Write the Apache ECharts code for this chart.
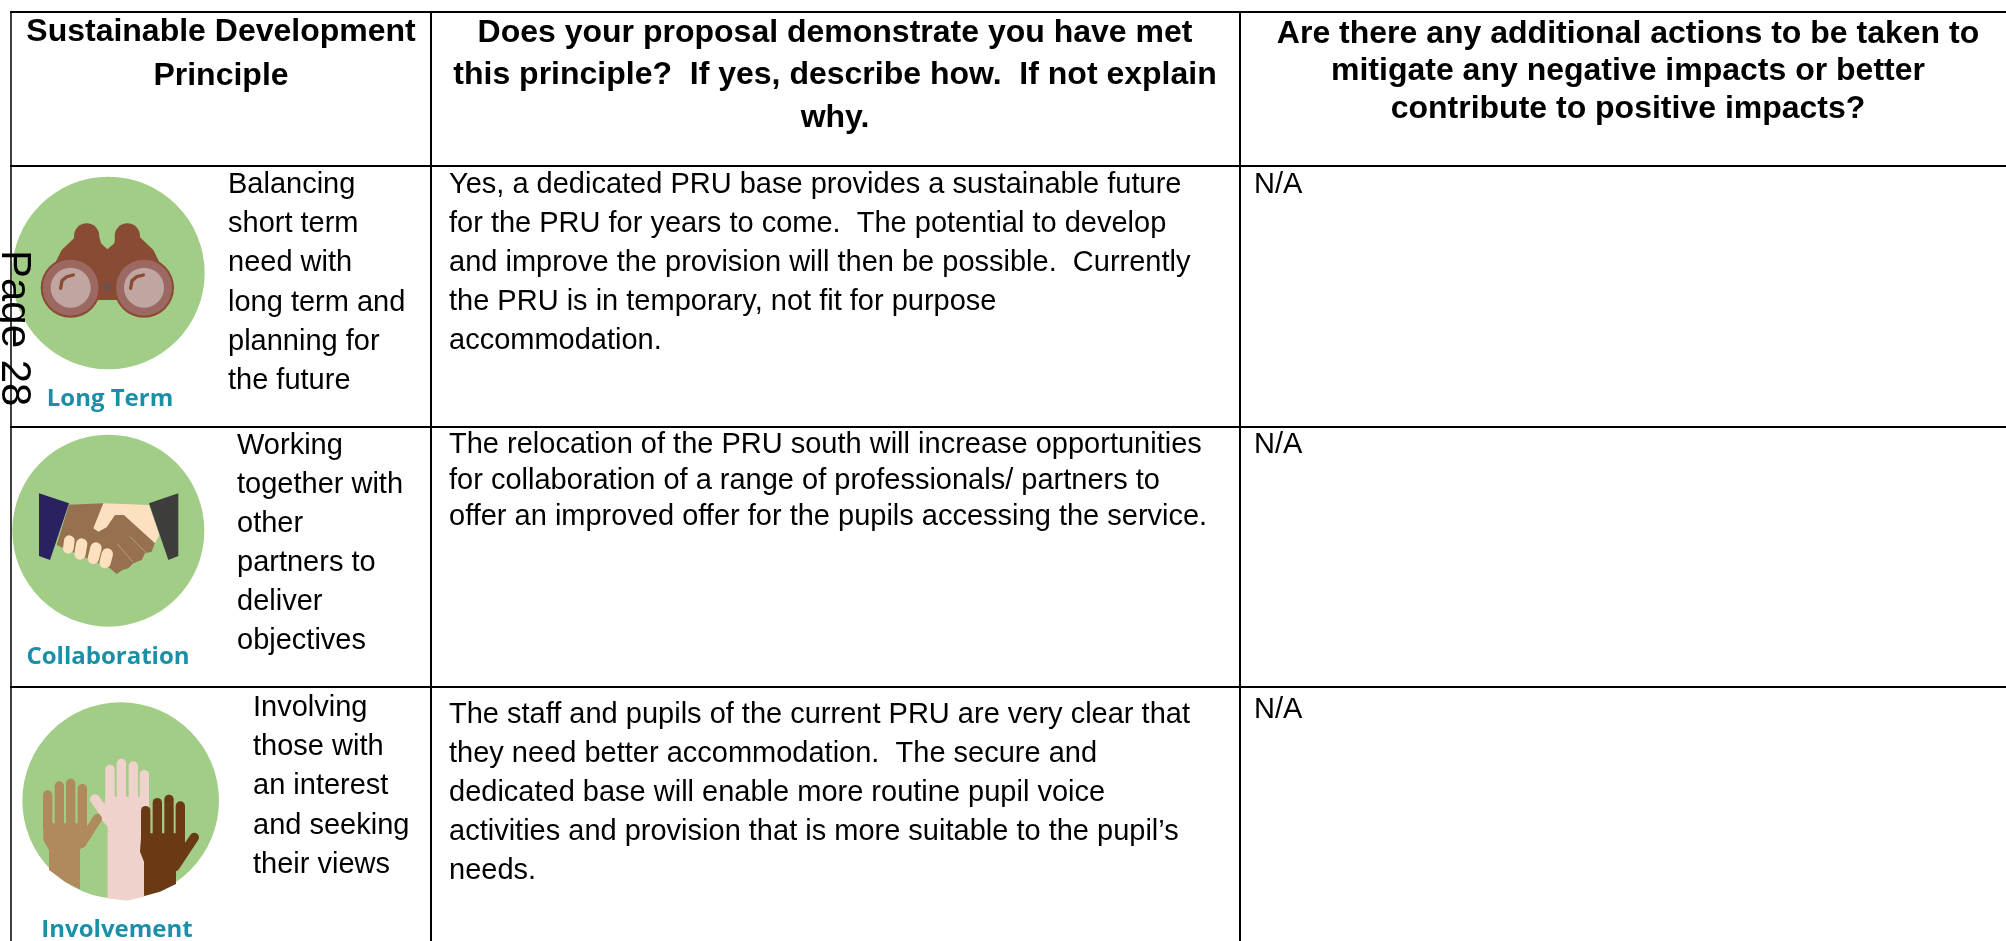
<!DOCTYPE html>
<html>
<head>
<meta charset="utf-8">
<style>
html,body{margin:0;padding:0;background:#fff;}
#main{width:2006px;height:941px;}
</style>
<script src="https://cdn.jsdelivr.net/npm/echarts@6/dist/echarts.min.js"></script>
</head>
<body>
<div id="main"></div>
<script>
var headerPrinciple = ['Sustainable Development', 'Principle'];
var headerProposal = ['Does your proposal demonstrate you have met', 'this principle?  If yes, describe how.  If not explain', 'why.'];
var headerActions = ['Are there any additional actions to be taken to', 'mitigate any negative impacts or better', 'contribute to positive impacts?'];

var iconLabels = ['Long Term', 'Collaboration', 'Involvement'];
var principleLong = ['Balancing', 'short term', 'need with', 'long term and', 'planning for', 'the future'];
var principleCollab = ['Working', 'together with', 'other', 'partners to', 'deliver', 'objectives'];
var principleInvolve = ['Involving', 'those with', 'an interest', 'and seeking', 'their views'];

var proposalLong = ['Yes, a dedicated PRU base provides a sustainable future', 'for the PRU for years to come.  The potential to develop', 'and improve the provision will then be possible.  Currently', 'the PRU is in temporary, not fit for purpose', 'accommodation.'];
var proposalCollab = ['The relocation of the PRU south will increase opportunities', 'for collaboration of a range of professionals/ partners to', 'offer an improved offer for the pupils accessing the service.'];
var proposalInvolve = ['The staff and pupils of the current PRU are very clear that', 'they need better accommodation.  The secure and', 'dedicated base will enable more routine pupil voice', 'activities and provision that is more suitable to the pupil\u2019s', 'needs.'];
var actionsText = 'N/A';
var pageLabel = 'Page 28';

var FONT = '"Liberation Sans"';
var GREEN = '#a2cd86';
var els = [];

function line(x1, y1, x2, y2, w) {
	els.push({type: 'line', shape: {x1: x1, y1: y1, x2: x2, y2: y2}, style: {stroke: '#000', lineWidth: w || 2}, silent: true});
}
// y is the baseline, zrender has no alphabetic baseline so go through middle
function textLines(lines, x, y, step, size, bold, align) {
	for (var i = 0; i < lines.length; i++) {
		els.push({type: 'text', x: x, y: y + i * step - size * 0.3465, silent: true, style: {
			text: lines[i], fill: '#000', font: (bold ? 'bold ' : '') + size + 'px ' + FONT,
			textAlign: align || 'left', textVerticalAlign: 'middle'
		}});
	}
}
function badge(label, x, y, size) {
	els.push({type: 'text', x: x, y: y - size * 0.3465, silent: true, style: {
		text: label, fill: '#1b8fa8', font: 'bold ' + size + 'px "Open Sans"',
		textAlign: 'center', textVerticalAlign: 'middle'
	}});
}
function circle(cx, cy, r, fill) {
	return {type: 'circle', shape: {cx: cx, cy: cy, r: r}, style: {fill: fill}};
}
function poly(points, fill) {
	return {type: 'polygon', shape: {points: points}, style: {fill: fill}};
}
function stroke(x1, y1, x2, y2, w, color) {
	return {type: 'line', shape: {x1: x1, y1: y1, x2: x2, y2: y2}, style: {stroke: color, lineWidth: w, lineCap: 'round'}};
}
// icons are drawn in the 3x crop coordinates, then scaled down
function icon(ox, oy, children) {
	els.push({type: 'group', x: ox, y: oy, scaleX: 1 / 3, scaleY: 1 / 3, silent: true, children: children});
}

// long term: binoculars
var BROWN = '#8a4b35';
icon(0, 160, [
	circle(325, 339, 289, GREEN),
	poly([[130, 380], [185, 270], [225, 232], [298, 232], [303, 250], [322, 268], [343, 250], [345, 232], [420, 232], [460, 270], [515, 380], [420, 420], [225, 420]], BROWN),
	circle(260, 228, 38, BROWN),
	circle(382, 228, 38, BROWN),
	circle(212, 383, 90, BROWN),
	circle(432, 383, 90, BROWN),
	circle(212, 383, 84, '#9b6862'),
	circle(432, 383, 84, '#9b6862'),
	circle(212, 383, 60, '#c1a5a1'),
	circle(432, 383, 60, '#c1a5a1'),
	circle(322, 380, 13, '#6f5048'),
	{type: 'polyline', shape: {points: [[182, 385], [186, 362], [200, 350], [220, 345]]}, style: {stroke: BROWN, lineWidth: 10, fill: null, lineCap: 'round'}},
	{type: 'polyline', shape: {points: [[392, 385], [396, 362], [410, 350], [430, 345]]}, style: {stroke: BROWN, lineWidth: 10, fill: null, lineCap: 'round'}}
]);

// collaboration: handshake
var HAND_B = '#97714f', HAND_C = '#fde0c0';
icon(0, 420, [
	circle(325, 332, 288, GREEN),
	poly([[207, 254], [310, 250], [345, 285], [372, 285], [465, 368], [455, 395], [435, 400], [425, 420], [400, 430], [385, 445], [368, 450], [350, 462], [330, 445], [170, 375]], HAND_B),
	poly([[310, 250], [447, 255], [478, 345], [465, 370], [372, 285], [345, 285], [320, 322], [295, 335], [280, 325]], HAND_C),
	stroke(208, 362, 205, 385, 32, HAND_C),
	stroke(245, 372, 240, 402, 34, HAND_C),
	stroke(288, 384, 280, 415, 34, HAND_C),
	stroke(322, 402, 315, 428, 34, HAND_C),
	poly([[117, 220], [207, 250], [150, 420], [117, 408]], '#2a2160'),
	poly([[447, 250], [535, 220], [535, 408], [505, 420]], '#3d3d3b'),
	stroke(352, 372, 398, 425, 3, '#b9a07f'),
	stroke(390, 350, 438, 398, 3, '#b9a07f')
]);

// involvement: raised hands
var H1 = '#b08a5c', H2 = '#f0d2cc', H3 = '#6a3a14';
icon(0, 680, [
	circle(362, 362, 295, GREEN),
	stroke(143, 345, 143, 440, 28, H1),
	stroke(178, 318, 178, 430, 28, H1),
	stroke(212, 310, 212, 430, 28, H1),
	stroke(247, 326, 247, 440, 28, H1),
	stroke(245, 490, 293, 415, 28, H1),
	poly([[130, 430], [260, 430], [262, 480], [240, 510], [240, 628], [195, 605], [147, 570], [147, 510], [130, 480]], H1),
	stroke(330, 268, 330, 370, 28, H2),
	stroke(364, 250, 364, 360, 28, H2),
	stroke(400, 258, 400, 360, 28, H2),
	stroke(433, 284, 433, 380, 28, H2),
	stroke(285, 358, 330, 420, 30, H2),
	poly([[317, 350], [446, 350], [446, 420], [432, 650], [380, 662], [323, 655], [323, 440], [305, 420]], H2),
	stroke(437, 392, 437, 510, 28, H3),
	stroke(472, 368, 472, 480, 28, H3),
	stroke(507, 358, 507, 480, 28, H3),
	stroke(541, 378, 541, 490, 28, H3),
	stroke(525, 560, 583, 472, 28, H3),
	poly([[424, 460], [555, 460], [555, 500], [528, 570], [528, 612], [480, 635], [432, 648], [432, 545], [420, 515]], H3)
]);

badge(iconLabels[0], 110, 407, 24);
badge(iconLabels[1], 108, 665, 24);
badge(iconLabels[2], 117, 938, 24);

// grid
line(10, 12, 2006, 12);
line(10, 166, 2006, 166);
line(10, 427, 2006, 427);
line(10, 687, 2006, 687);
line(11, 11, 11, 941, 1.5);
line(431, 11, 431, 941);
line(1240, 11, 1240, 941);

// header
textLines(headerPrinciple, 221, 43, 44, 32, true, 'center');
textLines(headerProposal, 835, 44, 42.5, 32, true, 'center');
textLines(headerActions, 1628, 45, 37.5, 32, true, 'center');

// first column
textLines(principleLong, 228, 195, 39.2, 29);
textLines(principleCollab, 237, 456, 39, 29);
textLines(principleInvolve, 253, 718, 39.2, 29);

// second column
textLines(proposalLong, 449, 195, 39, 29);
textLines(proposalCollab, 449, 455, 36, 29);
textLines(proposalInvolve, 449, 725.5, 39, 29);

// third column
textLines([actionsText], 1254, 195, 0, 29);
textLines([actionsText], 1254, 455, 0, 29);
textLines([actionsText], 1254, 720.5, 0, 29);

// rotated page mark
els.push({type: 'text', x: 42 * 0.3465 - 1, y: 250, rotation: -Math.PI / 2, silent: true, style: {
	text: pageLabel, fill: '#000', font: '42px ' + FONT, textAlign: 'left', textVerticalAlign: 'middle'
}});

var myChart = echarts.init(document.getElementById('main'));
myChart.setOption({
	animation: false,
	backgroundColor: '#fff',
	graphic: {elements: els}
});
</script>
</body>
</html>
